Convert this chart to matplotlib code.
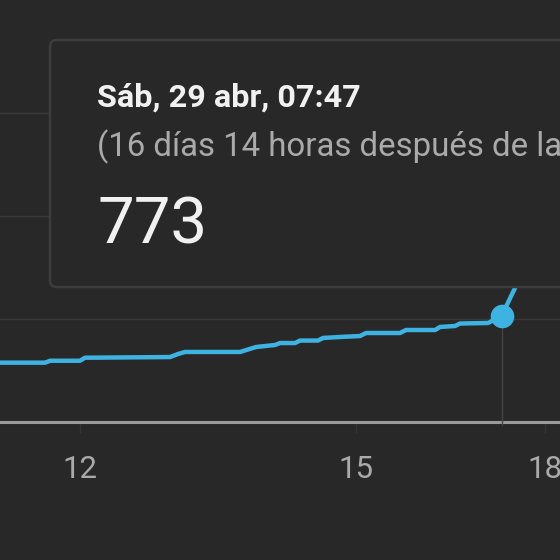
import matplotlib
matplotlib.use("Agg")
import matplotlib.pyplot as plt
from matplotlib.patches import FancyBboxPatch

# ---- data (days since publish, cumulative views) ----
days = [11.13, 11.62, 11.674, 12.0, 12.054, 12.978, 13.065, 13.141, 13.739,
        13.913, 14.12, 14.174, 14.337, 14.391, 14.587, 14.641, 14.826, 14.88,
        15.043, 15.109, 15.478, 15.543, 15.859, 15.913, 16.076, 16.13, 16.435,
        16.583, 16.728, 16.783]
views = [432, 432, 446, 446, 468, 473, 495, 510, 510,
         546, 561, 575, 575, 593, 593, 612, 619, 621,
         626, 648, 648, 670, 670, 692, 699, 717, 721,
         773, 976, 1107]
hover_day = 16.583
hover_views = 773
tick_pos = [12, 15, 17.05]
tick_labels = ["12", "15", "18"]
grid_vals = [750, 1500, 2250]
tip_title = "Sáb, 29 abr, 07:47"
tip_sub = "(16 días 14 horas después de la publicación)"
tip_value = "773"

BG = "#282828"
LINE = "#3eb2e0"
W = H = 560

plt.rcParams['font.family'] = ['Roboto', 'DejaVu Sans']
fig = plt.figure(figsize=(5.6, 5.6), dpi=100, facecolor=BG)
ax = fig.add_axes([0, 1 - 422 / H, 1, 422 / H])
ax.set_facecolor(BG)
ax.set_xlim(11.13, 11.13 + 560 / 92)
ax.set_ylim(0, 422 * 750 / 103)
for s in ax.spines.values():
    s.set_visible(False)

for g in grid_vals:
    ax.axhline(g, color="#3a3a3a", lw=1.0, zorder=1)
ax.axhline(0, color="#9a9a9a", lw=2.2, zorder=2, clip_on=False)

ax.plot([hover_day, hover_day], [-25, hover_views], color="#444444", lw=1.0,
        zorder=2, clip_on=False)
ax.plot(days, views, color=LINE, lw=3.2, zorder=3, solid_joinstyle="round")
ax.plot([hover_day], [hover_views], "o", color=LINE, ms=16, zorder=4)

ax.set_yticks([])
ax.set_xticks(tick_pos)
ax.set_xticklabels(tick_labels)
ax.tick_params(axis="x", colors="#363636", length=8, width=1.0, pad=16,
               labelsize=22.5, labelcolor="#aaaaaa")

# ---- tooltip (figure pixel coords) ----
def fx(px):
    return px / W

def fy(py):
    return 1 - py / H

box = FancyBboxPatch((fx(50), fy(287)), fx(560), (287 - 40) / H,
                     boxstyle="round,pad=0,rounding_size=0.012",
                     transform=fig.transFigure, facecolor="#282828",
                     edgecolor="#3d3d3d", lw=1.8, zorder=10)
fig.patches.append(box)
fig.text(fx(97), fy(107), tip_title, color="#f1f1f1", fontsize=23.3,
         fontweight="bold", va="baseline", ha="left", zorder=11)
fig.text(fx(97), fy(156), tip_sub, color="#aaaaaa", fontsize=23.8,
         va="baseline", ha="left", zorder=11)
fig.text(fx(97), fy(243), tip_value, color="#f1f1f1", fontsize=47,
         va="baseline", ha="left", zorder=11)

fig.savefig("out.png", dpi=100, facecolor=BG)
